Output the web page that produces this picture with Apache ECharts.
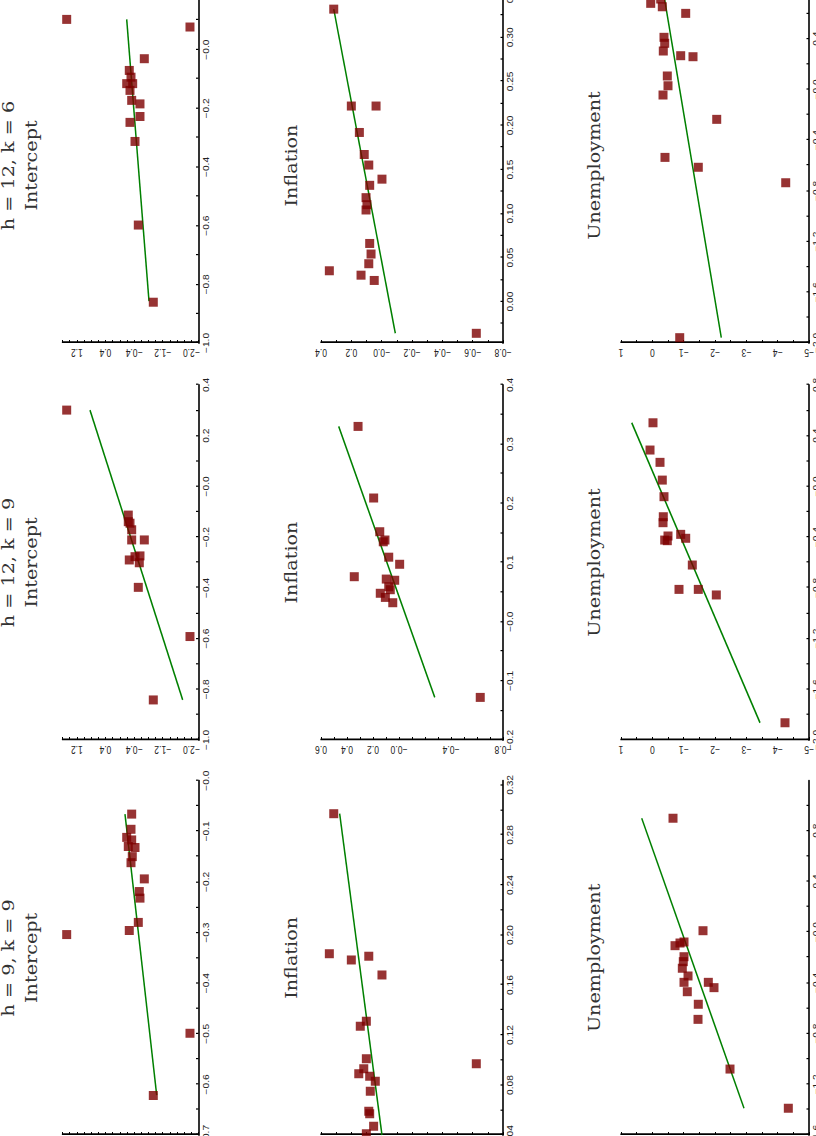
<!DOCTYPE html>
<html><head><meta charset="utf-8">
<script src="https://cdn.jsdelivr.net/npm/echarts@6/dist/echarts.min.js"></script>
<style>
html,body{margin:0;padding:0;width:816px;height:1136px;overflow:hidden;background:#fff;}
#chart{position:absolute;left:0;top:0;width:1020px;height:860px;transform-origin:0 0;
transform:translate(0px,1196px) rotate(-90deg) scale(1.2,1);}
</style></head><body><div id="chart"></div>
<script>
// ---------- titles ----------
const columnTitles = ['h = 9, k = 9', 'h = 12, k = 9', 'h = 12, k = 6'];
const rowTitles = ['Intercept', 'Inflation', 'Unemployment'];

// ---------- data: Intercept ----------
const intercept_h9k9_x = [-0.066,-0.096,-0.112,-0.117,-0.132,-0.130,-0.150,-0.162,-0.194,-0.219,-0.232,-0.280,-0.296,-0.304,-0.499,-0.622];
const intercept_h9k9_y = [-0.333,-0.314,-0.194,-0.333,-0.426,-0.238,-0.350,-0.314,-0.686,-0.546,-0.565,-0.518,-0.266,1.483,-1.962,-0.937];
const intercept_h9k9_fit = [[-0.066,-0.146],[-0.621,-1.032]];

const intercept_h12k9_x = [0.301,-0.113,-0.139,-0.145,-0.171,-0.211,-0.211,-0.290,-0.277,-0.274,-0.301,-0.398,-0.592,-0.842];
const intercept_h12k9_y = [1.483,-0.238,-0.238,-0.286,-0.333,-0.333,-0.686,-0.266,-0.426,-0.565,-0.546,-0.518,-1.962,-0.937];
const intercept_h12k9_fit = [[0.301,0.832],[-0.842,-1.758]];

const intercept_h12k6_x = [0.103,0.077,-0.031,-0.071,-0.094,-0.116,-0.116,-0.139,-0.173,-0.185,-0.228,-0.248,-0.313,-0.598,-0.861];
const intercept_h12k6_y = [1.483,-1.962,-0.686,-0.266,-0.314,-0.194,-0.361,-0.286,-0.333,-0.565,-0.565,-0.286,-0.426,-0.518,-0.937];
const intercept_h12k6_fit = [[0.103,-0.194],[-0.857,-0.817]];

// ---------- data: Inflation ----------
const inflation_h9k9_x = [0.297,0.185,0.180,0.183,0.168,0.131,0.127,0.101,0.093,0.089,0.087,0.083,0.075,0.059,0.057,0.047,0.041,0.097];
const inflation_h9k9_y = [0.316,0.345,0.200,0.085,-0.002,0.101,0.141,0.101,0.118,0.151,0.079,0.042,0.075,0.085,0.079,0.053,0.101,-0.624];
const inflation_h9k9_fit = [[0.297,0.277],[0.040,-0.002]];

const inflation_h12k9_x = [0.330,0.209,0.152,0.138,0.135,0.109,0.097,0.076,0.072,0.070,0.059,0.054,0.048,0.041,0.032,-0.128];
const inflation_h12k9_y = [0.315,0.195,0.148,0.108,0.121,0.079,-0.005,0.344,0.098,0.033,0.079,0.067,0.144,0.105,0.048,-0.625];
const inflation_h12k9_fit = [[0.330,0.464],[-0.128,-0.275]];

const inflation_h12k6_x = [0.332,0.222,0.222,0.192,0.167,0.155,0.139,0.132,0.118,0.110,0.104,0.066,0.054,0.043,0.035,0.030,0.024,-0.036];
const inflation_h12k6_y = [0.316,0.200,0.037,0.147,0.115,0.085,-0.002,0.079,0.103,0.097,0.103,0.079,0.070,0.085,0.345,0.136,0.049,-0.624];
const inflation_h12k6_fit = [[0.332,0.316],[-0.036,-0.090]];

// ---------- data: Unemployment ----------
const unemp_h9k9_x = [0.898,0.011,-0.107,-0.086,-0.078,-0.194,-0.233,-0.285,-0.346,-0.396,-0.396,-0.438,-0.470,-0.569,-0.688,-1.080,-1.389];
const unemp_h9k9_y = [-0.660,-1.617,-0.724,-0.883,-1.011,-1.011,-0.988,-0.957,-1.139,-1.011,-1.787,-1.968,-1.116,-1.467,-1.458,-2.479,-4.340];
const unemp_h9k9_fit = [[0.898,0.339],[-1.389,-2.926]];

const unemp_h12k9_x = [0.502,0.287,0.190,0.050,-0.081,-0.239,-0.286,-0.391,-0.423,-0.428,-0.378,-0.409,-0.620,-0.812,-0.812,-0.856,-1.864];
const unemp_h12k9_y = [-0.021,0.074,-0.245,-0.318,-0.372,-0.350,-0.341,-0.500,-0.395,-0.478,-0.905,-1.065,-1.276,-0.851,-1.467,-2.042,-4.234];
const unemp_h12k9_fit = [[0.502,0.658],[-1.864,-3.437]];

const unemp_h12k6_x = [0.679,0.713,0.652,0.600,0.411,0.364,0.303,0.266,0.258,0.106,0.029,-0.044,-0.236,-0.536,-0.614,-0.736,-1.958];
const unemp_h12k6_y = [0.052,-0.267,-0.318,-1.065,-0.372,-0.395,-0.350,-0.905,-1.298,-0.478,-0.500,-0.341,-2.055,-0.404,-1.467,-4.257,-0.874];
const unemp_h12k6_fit = [[0.729,-0.379],[-1.958,-2.201]];

// ---------- tick labels ----------
const M = '\u2212';
const ticksA1x_vals = [-0.7,-0.6,-0.5,-0.4,-0.3,-0.2,-0.1,0.0];
const ticksA1x_text = [M+'0.7',M+'0.6',M+'0.5',M+'0.4',M+'0.3',M+'0.2',M+'0.1',M+'0.0'];
const ticksA2x_vals = [-1.0,-0.8,-0.6,-0.4,-0.2,0.0,0.2,0.4];
const ticksA2x_text = [M+'1.0',M+'0.8',M+'0.6',M+'0.4',M+'0.2',M+'0.0','0.2','0.4'];
const ticksA3x_vals = [-1.0,-0.8,-0.6,-0.4,-0.2,0.0,0.2];
const ticksA3x_text = [M+'1.0',M+'0.8',M+'0.6',M+'0.4',M+'0.2',M+'0.0','0.2'];
const ticksB1x_vals = [0.04,0.08,0.12,0.16,0.20,0.24,0.28,0.32];
const ticksB1x_text = ['0.04','0.08','0.12','0.16','0.20','0.24','0.28','0.32'];
const ticksB2x_vals = [-0.2,-0.1,0.0,0.1,0.2,0.3,0.4];
const ticksB2x_text = [M+'0.2',M+'0.1',M+'0.0','0.1','0.2','0.3','0.4'];
const ticksB3x_vals = [0.00,0.05,0.10,0.15,0.20,0.25,0.30,0.35];
const ticksB3x_text = ['0.00','0.05','0.10','0.15','0.20','0.25','0.30','0.35'];
const ticksC1x_vals = [-1.6,-1.2,-0.8,-0.4,0.0,0.4,0.8,1.2];
const ticksC1x_text = [M+'1.6',M+'1.2',M+'0.8',M+'0.4',M+'0.0','0.4','0.8','1.2'];
const ticksC2x_vals = [-2.0,-1.6,-1.2,-0.8,-0.4,0.0,0.4,0.8];
const ticksC2x_text = [M+'2.0',M+'1.6',M+'1.2',M+'0.8',M+'0.4',M+'0.0','0.4','0.8'];
const ticksC3x_vals = [-2.0,-1.6,-1.2,-0.8,-0.4,0.0,0.4,0.8];
const ticksC3x_text = [M+'2.0',M+'1.6',M+'1.2',M+'0.8',M+'0.4',M+'0.0','0.4','0.8'];

const ticksAy_vals = [-2.0,-1.2,-0.4,0.4,1.2];
const ticksAy_text = [M+'2.0',M+'1.2',M+'0.4','0.4','1.2'];
const ticksBy_vals = [-0.8,-0.6,-0.4,-0.2,0.0,0.2,0.4];
const ticksBy_text = [M+'0.8',M+'0.6',M+'0.4',M+'0.2',M+'0.0','0.2','0.4'];
const ticksB2y_vals = [-0.8,-0.4,0.0,0.2,0.4,0.6];
const ticksB2y_text = [M+'0.8',M+'0.4',M+'0.0','0.2','0.4','0.6'];
const ticksCy_vals = [-5,-4,-3,-2,-1,0,1];
const ticksCy_text = [M+'5',M+'4',M+'3',M+'2',M+'1','0','1'];

// ---------- layout helpers ----------
const SX = 1.2, OFF = 60;
const lx = X => (X + OFF) / SX;
const colsX = [[1, 355.3], [396, 751], [793, 1148]];
const rowsY = [[62.5, 198.5], [321, 503], [621, 809]];

function steps(a, b, s) { const r = []; const n = Math.round((b - a) / s); for (let i = 0; i <= n; i++) r.push(+(a + i * s).toFixed(6)); return r; }
function fmt(vals, txt) { return v => { for (let i = 0; i < vals.length; i++) if (Math.abs(vals[i] - v) < 1e-6) return txt[i]; return ''; }; }

const panels = [
  {r:0,c:0,x:intercept_h9k9_x,y:intercept_h9k9_y,fit:intercept_h9k9_fit,xr:[-0.7,0.0],xs:0.05,xv:ticksA1x_vals,xt:ticksA1x_text,yr:[-2.2,1.6],ys:0.2,yv:ticksAy_vals,yt:ticksAy_text},
  {r:0,c:1,x:intercept_h12k9_x,y:intercept_h12k9_y,fit:intercept_h12k9_fit,xr:[-1.0,0.4],xs:0.1,xv:ticksA2x_vals,xt:ticksA2x_text,yr:[-2.2,1.6],ys:0.2,yv:ticksAy_vals,yt:ticksAy_text},
  {r:0,c:2,x:intercept_h12k6_x,y:intercept_h12k6_y,fit:intercept_h12k6_fit,xr:[-1.0,0.21],xs:0.1,xv:ticksA3x_vals,xt:ticksA3x_text,yr:[-2.2,1.6],ys:0.2,yv:ticksAy_vals,yt:ticksAy_text},
  {r:1,c:0,x:inflation_h9k9_x,y:inflation_h9k9_y,fit:inflation_h9k9_fit,xr:[0.04,0.3234],xs:0.02,xv:ticksB1x_vals,xt:ticksB1x_text,yr:[-0.8,0.4],ys:0.1,yv:ticksBy_vals,yt:ticksBy_text},
  {r:1,c:1,x:inflation_h12k9_x,y:inflation_h12k9_y,fit:inflation_h12k9_fit,xr:[-0.2,0.4],xs:0.05,xv:ticksB2x_vals,xt:ticksB2x_text,yr:[-0.8,0.6],ys:0.1,yv:ticksB2y_vals,yt:ticksB2y_text},
  {r:1,c:2,x:inflation_h12k6_x,y:inflation_h12k6_y,fit:inflation_h12k6_fit,xr:[-0.047,0.356],xs:0.025,xv:ticksB3x_vals,xt:ticksB3x_text,yr:[-0.8,0.4],ys:0.1,yv:ticksBy_vals,yt:ticksBy_text},
  {r:2,c:0,x:unemp_h9k9_x,y:unemp_h9k9_y,fit:unemp_h9k9_fit,xr:[-1.6,1.194],xs:0.2,xv:ticksC1x_vals,xt:ticksC1x_text,yr:[-5,1],ys:0.5,yv:ticksCy_vals,yt:ticksCy_text},
  {r:2,c:1,x:unemp_h12k9_x,y:unemp_h12k9_y,fit:unemp_h12k9_fit,xr:[-2.0,0.8],xs:0.2,xv:ticksC2x_vals,xt:ticksC2x_text,yr:[-5,1],ys:0.5,yv:ticksCy_vals,yt:ticksCy_text},
  {r:2,c:2,x:unemp_h12k6_x,y:unemp_h12k6_y,fit:unemp_h12k6_fit,xr:[-2.0,0.8],xs:0.2,xv:ticksC3x_vals,xt:ticksC3x_text,yr:[-5,1],ys:0.5,yv:ticksCy_vals,yt:ticksCy_text}
];

const labelStyle = {fontSize: 8.5, fontFamily: '"Liberation Sans", Arial, sans-serif', color: '#222', hideOverlap: false};
const grid = [], xAxis = [], yAxis = [], series = [];
panels.forEach((p, i) => {
  const cx = colsX[p.c], ry = rowsY[p.r];
  grid.push({left: lx(cx[0]), width: (cx[1] - cx[0]) / SX, top: ry[0], height: ry[1] - ry[0], containLabel: false});
  xAxis.push({
    gridIndex: i, type: 'value', min: p.xr[0], max: p.xr[1],
    axisLine: {onZero: false, lineStyle: {color: '#000', width: 1.6}},
    axisTick: {inside: true, length: 2.5, customValues: steps(Math.ceil(p.xr[0] / p.xs - 1e-6) * p.xs, Math.floor(p.xr[1] / p.xs + 1e-6) * p.xs, p.xs), lineStyle: {color: '#000', width: 1}},
    axisLabel: Object.assign({customValues: p.xv, formatter: fmt(p.xv, p.xt), margin: 3}, labelStyle),
    splitLine: {show: false}
  });
  yAxis.push({
    gridIndex: i, type: 'value', min: p.yr[0], max: p.yr[1],
    axisLine: {onZero: false, lineStyle: {color: '#000', width: 1.4}},
    axisTick: {inside: true, length: 2.5, customValues: steps(p.yr[0], p.yr[1], p.ys), lineStyle: {color: '#000', width: 1}},
    axisLabel: Object.assign({customValues: p.yv, formatter: fmt(p.yv, p.yt), margin: 3, rotate: 90}, labelStyle),
    splitLine: {show: false}
  });
  series.push({type: 'line', xAxisIndex: i, yAxisIndex: i, data: p.fit, symbol: 'none', silent: true,
    lineStyle: {color: '#008000', width: 1.5}, z: 2});
  series.push({type: 'scatter', xAxisIndex: i, yAxisIndex: i, data: p.x.map((v, j) => [v, p.y[j]]),
    symbol: 'rect', symbolSize: [7.5, 9], itemStyle: {color: '#7d0000'}, z: 3});
});

const titleFont = '16px "DejaVu Serif", serif';
const graphic = [];
const rowTitleY = [31.7, 291.4, 595];
colsX.forEach((cx, c) => {
  const xc = lx((cx[0] + cx[1]) / 2);
  graphic.push({type: 'text', x: xc, y: 9, style: {text: columnTitles[c], font: titleFont, fill: '#333', align: 'center', verticalAlign: 'middle'}});
  rowTitles.forEach((t, r) => {
    graphic.push({type: 'text', x: xc, y: rowTitleY[r], style: {text: t, font: titleFont, fill: '#333', align: 'center', verticalAlign: 'middle'}});
  });
});

const chart = echarts.init(document.getElementById('chart'), null, {renderer: 'svg', width: 1020, height: 860});
chart.setOption({animation: false, backgroundColor: '#fff', grid, xAxis, yAxis, series, graphic});
</script></body></html>
